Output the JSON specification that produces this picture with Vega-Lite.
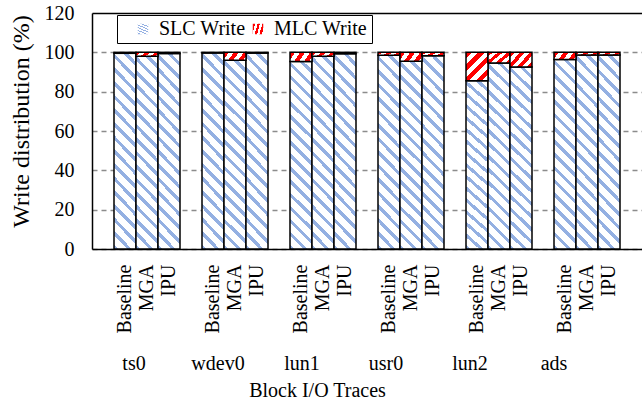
{
  "$schema": "https://vega.github.io/schema/vega-lite/v6.json",
  "width": 550,
  "height": 236,
  "autosize": {"type": "none"},
  "padding": {"left": 92, "top": 13, "right": 0, "bottom": 157},
  "background": "white",
  "config": {
    "font": "Liberation Serif",
    "view": {"stroke": null},
    "axis": {
      "labelFont": "Liberation Serif",
      "titleFont": "Liberation Serif",
      "labelColor": "black",
      "titleColor": "black",
      "labelFontSize": 20,
      "titleFontSize": 20,
      "titleFontWeight": "normal",
      "domainColor": "black",
      "domainWidth": 1.5
    },
    "legend": {
      "orient": "none",
      "direction": "horizontal",
      "title": null,
      "symbolType": "square",
      "symbolSize": 110,
      "symbolStrokeColor": "black",
      "symbolStrokeWidth": 1.5,
      "labelFont": "Liberation Serif",
      "labelFontSize": 20,
      "labelColor": "black",
      "labelOffset": 6,
      "labelLimit": 400,
      "padding": 4
    }
  },
  "data": {
    "values": [
      {"trace": "ts0", "method": "Baseline", "bar": "ts0 Baseline", "series": "SLC Write", "value": 99.5},
      {"trace": "ts0", "method": "Baseline", "bar": "ts0 Baseline", "series": "MLC Write", "value": 0.5},
      {"trace": "ts0", "method": "MGA", "bar": "ts0 MGA", "series": "SLC Write", "value": 98},
      {"trace": "ts0", "method": "MGA", "bar": "ts0 MGA", "series": "MLC Write", "value": 2},
      {"trace": "ts0", "method": "IPU", "bar": "ts0 IPU", "series": "SLC Write", "value": 99.4},
      {"trace": "ts0", "method": "IPU", "bar": "ts0 IPU", "series": "MLC Write", "value": 0.6},
      {"trace": "wdev0", "method": "Baseline", "bar": "wdev0 Baseline", "series": "SLC Write", "value": 99.7},
      {"trace": "wdev0", "method": "Baseline", "bar": "wdev0 Baseline", "series": "MLC Write", "value": 0.3},
      {"trace": "wdev0", "method": "MGA", "bar": "wdev0 MGA", "series": "SLC Write", "value": 96},
      {"trace": "wdev0", "method": "MGA", "bar": "wdev0 MGA", "series": "MLC Write", "value": 4},
      {"trace": "wdev0", "method": "IPU", "bar": "wdev0 IPU", "series": "SLC Write", "value": 99.6},
      {"trace": "wdev0", "method": "IPU", "bar": "wdev0 IPU", "series": "MLC Write", "value": 0.4},
      {"trace": "lun1", "method": "Baseline", "bar": "lun1 Baseline", "series": "SLC Write", "value": 95.3},
      {"trace": "lun1", "method": "Baseline", "bar": "lun1 Baseline", "series": "MLC Write", "value": 4.7},
      {"trace": "lun1", "method": "MGA", "bar": "lun1 MGA", "series": "SLC Write", "value": 98},
      {"trace": "lun1", "method": "MGA", "bar": "lun1 MGA", "series": "MLC Write", "value": 2},
      {"trace": "lun1", "method": "IPU", "bar": "lun1 IPU", "series": "SLC Write", "value": 99.3},
      {"trace": "lun1", "method": "IPU", "bar": "lun1 IPU", "series": "MLC Write", "value": 0.7},
      {"trace": "usr0", "method": "Baseline", "bar": "usr0 Baseline", "series": "SLC Write", "value": 98.5},
      {"trace": "usr0", "method": "Baseline", "bar": "usr0 Baseline", "series": "MLC Write", "value": 1.5},
      {"trace": "usr0", "method": "MGA", "bar": "usr0 MGA", "series": "SLC Write", "value": 95.5},
      {"trace": "usr0", "method": "MGA", "bar": "usr0 MGA", "series": "MLC Write", "value": 4.5},
      {"trace": "usr0", "method": "IPU", "bar": "usr0 IPU", "series": "SLC Write", "value": 98.2},
      {"trace": "usr0", "method": "IPU", "bar": "usr0 IPU", "series": "MLC Write", "value": 1.8},
      {"trace": "lun2", "method": "Baseline", "bar": "lun2 Baseline", "series": "SLC Write", "value": 85.6},
      {"trace": "lun2", "method": "Baseline", "bar": "lun2 Baseline", "series": "MLC Write", "value": 14.4},
      {"trace": "lun2", "method": "MGA", "bar": "lun2 MGA", "series": "SLC Write", "value": 94.6},
      {"trace": "lun2", "method": "MGA", "bar": "lun2 MGA", "series": "MLC Write", "value": 5.4},
      {"trace": "lun2", "method": "IPU", "bar": "lun2 IPU", "series": "SLC Write", "value": 92.6},
      {"trace": "lun2", "method": "IPU", "bar": "lun2 IPU", "series": "MLC Write", "value": 7.4},
      {"trace": "ads", "method": "Baseline", "bar": "ads Baseline", "series": "SLC Write", "value": 96.3},
      {"trace": "ads", "method": "Baseline", "bar": "ads Baseline", "series": "MLC Write", "value": 3.7},
      {"trace": "ads", "method": "MGA", "bar": "ads MGA", "series": "SLC Write", "value": 98.6},
      {"trace": "ads", "method": "MGA", "bar": "ads MGA", "series": "MLC Write", "value": 1.4},
      {"trace": "ads", "method": "IPU", "bar": "ads IPU", "series": "SLC Write", "value": 98.7},
      {"trace": "ads", "method": "IPU", "bar": "ads IPU", "series": "MLC Write", "value": 1.3}
    ]
  },
  "transform": [
    {"stack": "value", "groupby": ["bar"], "sort": [{"field": "series", "order": "descending"}], "as": ["v0", "v1"]}
  ],
  "layer": [
    {
      "encoding": {
        "x": {
          "field": "bar",
          "type": "nominal",
          "scale": {
            "domain": ["ts0 Baseline", "ts0 MGA", "ts0 IPU", "gap1", "wdev0 Baseline", "wdev0 MGA", "wdev0 IPU", "gap2", "lun1 Baseline", "lun1 MGA", "lun1 IPU", "gap3", "usr0 Baseline", "usr0 MGA", "usr0 IPU", "gap4", "lun2 Baseline", "lun2 MGA", "lun2 IPU", "gap5", "ads Baseline", "ads MGA", "ads IPU"],
            "paddingInner": 0,
            "paddingOuter": 1
          },
          "axis": {
            "orient": "bottom",
            "title": null,
            "labelAngle": 270,
            "labelAlign": "right",
            "labelBaseline": "middle",
            "labelPadding": 15,
            "ticks": false,
            "tickSize": 0,
            "grid": false,
            "labelExpr": "indexof(datum.value, 'gap') === 0 ? '' : split(datum.value, ' ')[1]"
          }
        },
        "y": {
          "field": "v1",
          "type": "quantitative",
          "scale": {"domain": [0, 120], "nice": false},
          "axis": {
            "values": [0, 20, 40, 60, 80, 100, 120],
            "title": "Write distribution (%)",
            "grid": true,
            "gridColor": {"condition": {"test": "datum.value === 120", "value": "black"}, "value": "#8c8c8c"},
            "gridDash": {"condition": {"test": "datum.value === 120", "value": []}, "value": [5, 4]},
            "gridWidth": {"condition": {"test": "datum.value === 120", "value": 1.5}, "value": 1.3},
            "ticks": false,
            "tickSize": 0,
            "labelPadding": 18,
            "titleFontSize": 24,
            "titleAngle": 270,
            "titleX": -71,
            "titleY": 108,
            "titleBaseline": "middle",
            "titleAlign": "center"
          }
        },
        "y2": {"field": "v0"}
      },
      "layer": [
        {
          "transform": [{"filter": "datum.series === 'SLC Write'"}],
          "mark": {"type": "bar", "stroke": "black", "strokeWidth": 1.5},
          "encoding": {
            "opacity": {
              "field": "series",
              "type": "ordinal",
              "scale": {"domain": ["SLC Write"], "range": [1, 1]},
              "legend": {
                "legendX": 25,
                "legendY": 2,
                "symbolOffset": 12,
                "strokeColor": null,
                "fillColor": null
              }
            },
            "fill": {
              "value": {"gradient": "linear", "x1": 0, "y1": 1, "x2": 0.128, "y2": -0.102, "stops": [
                {"offset": 0, "color": "#94b0e2"}, {"offset": 0.0219, "color": "#94b0e2"}, {"offset": 0.0219, "color": "#ffffff"}, {"offset": 0.0625, "color": "#ffffff"},
                {"offset": 0.0625, "color": "#94b0e2"}, {"offset": 0.0844, "color": "#94b0e2"}, {"offset": 0.0844, "color": "#ffffff"}, {"offset": 0.125, "color": "#ffffff"},
                {"offset": 0.125, "color": "#94b0e2"}, {"offset": 0.1469, "color": "#94b0e2"}, {"offset": 0.1469, "color": "#ffffff"}, {"offset": 0.1875, "color": "#ffffff"},
                {"offset": 0.1875, "color": "#94b0e2"}, {"offset": 0.2094, "color": "#94b0e2"}, {"offset": 0.2094, "color": "#ffffff"}, {"offset": 0.25, "color": "#ffffff"},
                {"offset": 0.25, "color": "#94b0e2"}, {"offset": 0.2719, "color": "#94b0e2"}, {"offset": 0.2719, "color": "#ffffff"}, {"offset": 0.3125, "color": "#ffffff"},
                {"offset": 0.3125, "color": "#94b0e2"}, {"offset": 0.3344, "color": "#94b0e2"}, {"offset": 0.3344, "color": "#ffffff"}, {"offset": 0.375, "color": "#ffffff"},
                {"offset": 0.375, "color": "#94b0e2"}, {"offset": 0.3969, "color": "#94b0e2"}, {"offset": 0.3969, "color": "#ffffff"}, {"offset": 0.4375, "color": "#ffffff"},
                {"offset": 0.4375, "color": "#94b0e2"}, {"offset": 0.4594, "color": "#94b0e2"}, {"offset": 0.4594, "color": "#ffffff"}, {"offset": 0.5, "color": "#ffffff"},
                {"offset": 0.5, "color": "#94b0e2"}, {"offset": 0.5219, "color": "#94b0e2"}, {"offset": 0.5219, "color": "#ffffff"}, {"offset": 0.5625, "color": "#ffffff"},
                {"offset": 0.5625, "color": "#94b0e2"}, {"offset": 0.5844, "color": "#94b0e2"}, {"offset": 0.5844, "color": "#ffffff"}, {"offset": 0.625, "color": "#ffffff"},
                {"offset": 0.625, "color": "#94b0e2"}, {"offset": 0.6469, "color": "#94b0e2"}, {"offset": 0.6469, "color": "#ffffff"}, {"offset": 0.6875, "color": "#ffffff"},
                {"offset": 0.6875, "color": "#94b0e2"}, {"offset": 0.7094, "color": "#94b0e2"}, {"offset": 0.7094, "color": "#ffffff"}, {"offset": 0.75, "color": "#ffffff"},
                {"offset": 0.75, "color": "#94b0e2"}, {"offset": 0.7719, "color": "#94b0e2"}, {"offset": 0.7719, "color": "#ffffff"}, {"offset": 0.8125, "color": "#ffffff"},
                {"offset": 0.8125, "color": "#94b0e2"}, {"offset": 0.8344, "color": "#94b0e2"}, {"offset": 0.8344, "color": "#ffffff"}, {"offset": 0.875, "color": "#ffffff"},
                {"offset": 0.875, "color": "#94b0e2"}, {"offset": 0.8969, "color": "#94b0e2"}, {"offset": 0.8969, "color": "#ffffff"}, {"offset": 0.9375, "color": "#ffffff"},
                {"offset": 0.9375, "color": "#94b0e2"}, {"offset": 0.9594, "color": "#94b0e2"}, {"offset": 0.9594, "color": "#ffffff"}, {"offset": 1, "color": "#ffffff"}
              ]}
            }
          }
        },
        {
          "transform": [{"filter": "datum.series === 'MLC Write'"}],
          "mark": {"type": "bar", "stroke": "black", "strokeWidth": 1.5},
          "encoding": {
            "opacity": {
              "field": "series",
              "type": "ordinal",
              "scale": {"domain": ["MLC Write"], "range": [1, 1]},
              "legend": {
                "legendX": 25,
                "legendY": 2,
                "symbolOffset": 127,
                "strokeColor": "black",
                "fillColor": null,
                "labelExpr": "datum.label + '\u00a0\u00a0\u00a0\u00a0'"
              }
            },
            "fill": {
              "condition": [
                {
                  "test": "datum.value >= 10",
                  "value": {"gradient": "linear", "x1": 0, "y1": 0, "x2": 0.861, "y2": 1.108, "stops": [
                    {"offset": 0, "color": "#ff0000"}, {"offset": 0.125, "color": "#ff0000"}, {"offset": 0.125, "color": "#ffffff"}, {"offset": 0.25, "color": "#ffffff"},
                    {"offset": 0.25, "color": "#ff0000"}, {"offset": 0.375, "color": "#ff0000"}, {"offset": 0.375, "color": "#ffffff"}, {"offset": 0.5, "color": "#ffffff"},
                    {"offset": 0.5, "color": "#ff0000"}, {"offset": 0.625, "color": "#ff0000"}, {"offset": 0.625, "color": "#ffffff"}, {"offset": 0.75, "color": "#ffffff"},
                    {"offset": 0.75, "color": "#ff0000"}, {"offset": 0.875, "color": "#ff0000"}, {"offset": 0.875, "color": "#ffffff"}, {"offset": 1, "color": "#ffffff"}
                  ]}
                },
                {
                  "test": "datum.value >= 5",
                  "value": {"gradient": "linear", "x1": 0, "y1": 0, "x2": 1.183, "y2": 0.686, "stops": [
                    {"offset": 0, "color": "#ff0000"}, {"offset": 0.1429, "color": "#ff0000"}, {"offset": 0.1429, "color": "#ffffff"}, {"offset": 0.2857, "color": "#ffffff"},
                    {"offset": 0.2857, "color": "#ff0000"}, {"offset": 0.4286, "color": "#ff0000"}, {"offset": 0.4286, "color": "#ffffff"}, {"offset": 0.5714, "color": "#ffffff"},
                    {"offset": 0.5714, "color": "#ff0000"}, {"offset": 0.7143, "color": "#ff0000"}, {"offset": 0.7143, "color": "#ffffff"}, {"offset": 0.8571, "color": "#ffffff"},
                    {"offset": 0.8571, "color": "#ff0000"}, {"offset": 1, "color": "#ff0000"}
                  ]}
                }
              ],
              "value": {"gradient": "linear", "x1": 0, "y1": 0, "x2": 1.184, "y2": 0.32, "stops": [
                {"offset": 0, "color": "#ff0000"}, {"offset": 0.1786, "color": "#ff0000"}, {"offset": 0.1786, "color": "#ffffff"}, {"offset": 0.357, "color": "#ffffff"},
                {"offset": 0.357, "color": "#ff0000"}, {"offset": 0.536, "color": "#ff0000"}, {"offset": 0.536, "color": "#ffffff"}, {"offset": 0.714, "color": "#ffffff"},
                {"offset": 0.714, "color": "#ff0000"}, {"offset": 0.893, "color": "#ff0000"}, {"offset": 0.893, "color": "#ffffff"}, {"offset": 1, "color": "#ffffff"}
              ]}
            }
          }
        }
      ],
      "resolve": {"scale": {"opacity": "independent"}, "legend": {"opacity": "independent"}}
    },
    {
      "mark": {"type": "point", "opacity": 0},
      "transform": [{"filter": "datum.series === 'SLC Write' && datum.method === 'MGA'"}],
      "encoding": {
        "x": {
          "field": "trace",
          "type": "nominal",
          "scale": {"type": "band", "domain": ["ts0", "wdev0", "lun1", "usr0", "lun2", "ads"], "paddingInner": 0, "paddingOuter": 0.274, "align": 0},
          "axis": {
            "orient": "bottom",
            "domain": false,
            "ticks": false,
            "tickSize": 0,
            "grid": false,
            "labelAngle": 0,
            "labelPadding": 104,
            "labelBaseline": "top",
            "title": "Block I/O Traces",
            "titleX": 225,
            "titleY": 147,
            "titleBaseline": "alphabetic"
          }
        }
      }
    }
  ],
  "resolve": {"scale": {"x": "independent"}, "axis": {"x": "independent"}}
}
